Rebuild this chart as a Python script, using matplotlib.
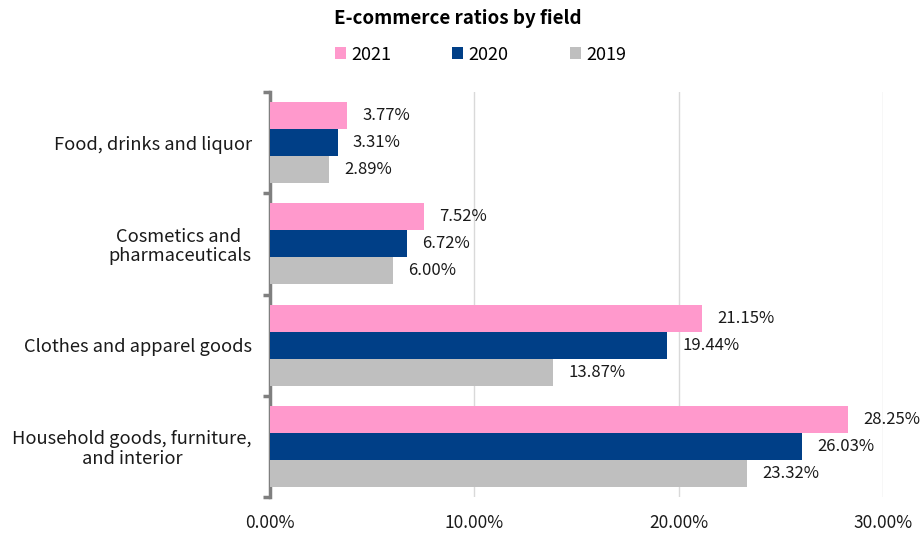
import matplotlib.pyplot as plt
import numpy as np

plt.rcParams['font.family'] = ['Noto Sans CJK JP', 'DejaVu Sans']

# data
categories = ['Food, drinks and liquor', 'Cosmetics and \npharmaceuticals',
              'Clothes and apparel goods', 'Household goods, furniture,\nand interior']
years = ['2021', '2020', '2019']
vals_2021 = [3.77, 7.52, 21.15, 28.25]
vals_2020 = [3.31, 6.72, 19.44, 26.03]
vals_2019 = [2.89, 6.00, 13.87, 23.32]
xticks = [0, 10, 20, 30]

colors = ['#FF99CC', '#003F87', '#BFBFBF']
series = [vals_2021, vals_2020, vals_2019]

fig = plt.figure(figsize=(9.24, 5.35), dpi=100)
ax = fig.add_axes([0.292, 0.071, 0.664, 0.757])

n = len(categories)
ypos = np.arange(n)
h = 0.267
for i, (vals, c, yr) in enumerate(zip(series, colors, years)):
    y = ypos + (i - 1) * h
    ax.barh(y, vals, height=h, color=c, label=yr, zorder=3)
    for yy, v in zip(y, vals):
        ax.annotate('%.2f%%' % v, (v, yy), xytext=(11, 0), textcoords='offset points',
                    va='center', ha='left', fontsize=12, color='#1a1a1a')

ax.set_ylim(n - 0.5, -0.5)
ax.set_xlim(0, 30)
ax.set_xticks(xticks)
ax.set_xticklabels(['%.2f%%' % t for t in xticks], fontsize=12.5)
ax.tick_params(axis='x', length=0, pad=12, colors='#1a1a1a')

ax.set_yticks(ypos)
ax.set_yticklabels(categories, fontsize=13.2, ha='right', multialignment='center',
                   color='#1a1a1a', linespacing=1.1)
ax.set_yticks(np.arange(n + 1) - 0.5, minor=True)
ax.tick_params(axis='y', which='major', length=0, pad=13)
ax.tick_params(axis='y', which='minor', length=5, width=2.5, color='#7f7f7f')

ax.grid(axis='x', color='#d9d9d9', linewidth=1, zorder=0)
for s in ['top', 'right', 'bottom']:
    ax.spines[s].set_visible(False)
ax.spines['left'].set_color('#7f7f7f')
ax.spines['left'].set_linewidth(2.5)

fig.suptitle('E-commerce ratios by field', x=0.495, y=0.983, fontsize=13.5,
             fontweight='bold')
fig.legend(loc='center', bbox_to_anchor=(0.52, 0.898), ncol=3, frameon=False,
           fontsize=13, handlelength=0.6, handleheight=0.6, handletextpad=0.3,
           columnspacing=3.4)

fig.savefig('out.png', dpi=100)
